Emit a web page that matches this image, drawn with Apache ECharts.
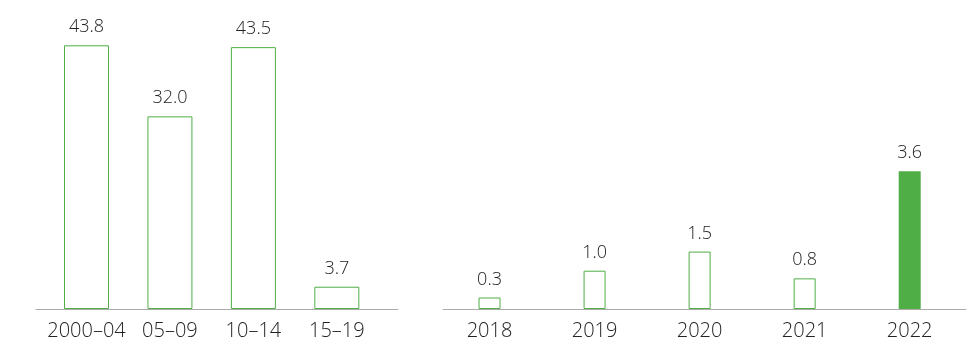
<!DOCTYPE html>
<html>
<head>
<meta charset="utf-8">
<script src="https://cdn.jsdelivr.net/npm/echarts@6/dist/echarts.min.js"></script>
<style>
  html, body { margin: 0; padding: 0; background: #ffffff; }
  #chart { width: 973px; height: 343px; }
</style>
</head>
<body>
<div id="chart"></div>
<script>
// Five-year periods (left panel) and single years (right panel)
const periods = ['2000–04', '05–09', '10–14', '15–19'];
const periodValues = [43.8, 32.0, 43.5, 3.7];

const years = ['2018', '2019', '2020', '2021', '2022'];
const yearValues = [0.3, 1.0, 1.5, 0.8, 3.6];

const GREEN = '#4fae45';
const FONT = '"Open Sans", "Noto Sans", sans-serif';

const chart = echarts.init(document.getElementById('chart'), null, { renderer: 'canvas' });

function toPoints(values, highlightLast) {
  return values.map((v, i) => {
    const filled = highlightLast && i === values.length - 1;
    return {
      value: [i, v],
      itemStyle: filled
        ? { color: GREEN, borderColor: GREEN, borderWidth: 0 }
        : { color: '#ffffff', borderColor: GREEN, borderWidth: 1 }
    };
  });
}

function xAxisFor(gridIndex, labels, min, max) {
  const idx = labels.map((_, i) => i);
  return {
    gridIndex,
    type: 'value',
    min, max,
    splitLine: { show: false },
    axisLine: { show: true, onZero: false, lineStyle: { color: '#ababab', width: 1 } },
    axisTick: { show: false, customValues: idx },
    axisLabel: {
      customValues: idx,
      formatter: v => labels[Math.round(v)],
      color: '#222',
      fontSize: 20,
      fontFamily: FONT,
      fontWeight: 300,
      margin: 12
    }
  };
}

function yAxisFor(gridIndex, max) {
  return {
    gridIndex, type: 'value', min: 0, max,
    show: false, splitLine: { show: false }
  };
}

const labelStyle = {
  show: true,
  position: 'top',
  distance: 9,
  color: '#222',
  fontSize: 18,
  fontFamily: FONT,
  fontWeight: 300,
  formatter: p => p.value[1].toFixed(1)
};

chart.setOption({
  animation: false,
  backgroundColor: '#ffffff',
  grid: [
    { left: 36, width: 362, top: 8, height: 301 },
    { left: 443, width: 523, top: 41, height: 268 }
  ],
  xAxis: [
    xAxisFor(0, periods, -0.605, 3.733),
    xAxisFor(1, years, -0.443, 4.536)
  ],
  yAxis: [
    yAxisFor(0, 50),
    yAxisFor(1, 7)
  ],
  series: [
    {
      type: 'bar', xAxisIndex: 0, yAxisIndex: 0,
      barWidth: 45,
      data: toPoints(periodValues, false),
      label: labelStyle
    },
    {
      type: 'bar', xAxisIndex: 1, yAxisIndex: 1,
      barWidth: 22,
      data: toPoints(yearValues, true),
      label: labelStyle
    }
  ]
});
</script>
</body>
</html>
